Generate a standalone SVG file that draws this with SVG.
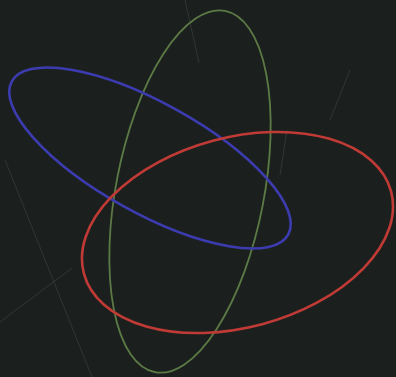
<svg xmlns="http://www.w3.org/2000/svg" width="396" height="377" viewBox="0 0 396 377">
<style>
.o{fill:none}
.scr{stroke:#8a9088;stroke-opacity:0.25;stroke-width:0.8;fill:none}
</style>
<rect width="396" height="377" fill="#1b201e"/>
<g id="scratches">
<line class="scr" x1="185" y1="0" x2="199" y2="63"/>
<line class="scr" x1="5" y1="160" x2="92" y2="377"/>
<line class="scr" x1="0" y1="322" x2="72" y2="268"/>
<line class="scr" x1="350" y1="70" x2="330" y2="120"/>
<line class="scr" x1="287" y1="130" x2="280" y2="175"/>
</g>
<g id="green">
<ellipse class="o" cx="190" cy="191.5" rx="74" ry="184" transform="rotate(11 190 191.5)" stroke="#5c7a45" stroke-width="1.8"/>
</g>
<g id="blue">
<ellipse class="o" cx="150" cy="158" rx="158" ry="55" transform="rotate(29 150 158)" stroke="#3c3cb0" stroke-width="2.6"/>
</g>
<g id="red">
<ellipse class="o" cx="237.5" cy="232.5" rx="159" ry="95" transform="rotate(-15 237.5 232.5)" stroke="#c03a36" stroke-width="2.6"/>
</g>
</svg>
